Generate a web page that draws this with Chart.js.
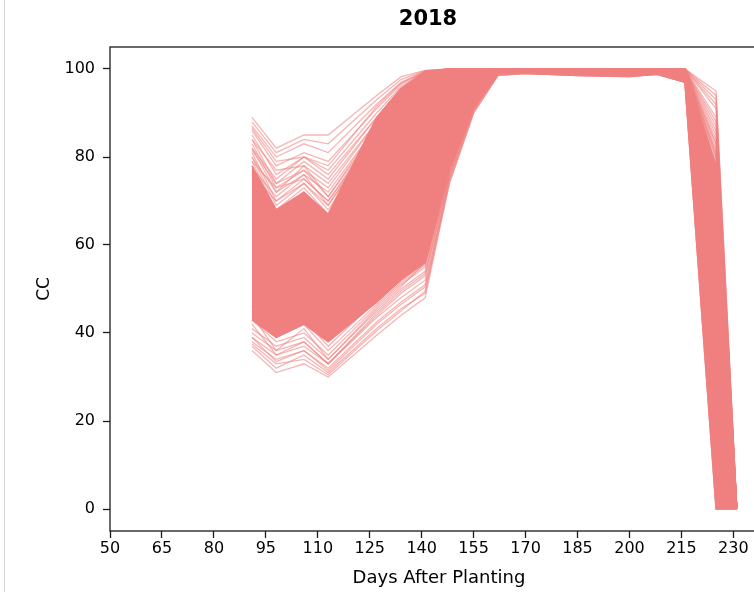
<!DOCTYPE html>
<html>
<head>
<meta charset="utf-8">
<script src="https://cdn.jsdelivr.net/npm/chart.js@4.4.1/dist/chart.umd.min.js"></script>
<style>
  html, body { margin: 0; padding: 0; background: #fff; overflow: hidden; }
  #wrap { position: relative; width: 754px; height: 592px; overflow: hidden; }
  #borde { position: absolute; left: 4px; top: 0; width: 1px; height: 592px; background: #d6d6d6; }
  canvas { position: absolute; left: 0; top: 0; }
</style>
</head>
<body>
<div id="wrap">
  <canvas id="graficoCC" width="768" height="592"></canvas>
  <div id="borde"></div>
</div>
<script>
// =============================
// DATOS
// =============================
const titulo = "2018";
const tituloX = "Days After Planting";
const tituloY = "CC";

const ticksX = [50, 65, 80, 95, 110, 125, 140, 155, 170, 185, 200, 215, 230];
const ticksY = [0, 20, 40, 60, 80, 100];

// días con observación (todas las corridas comparten las fechas)
const dias = [91, 98, 106, 113, 127, 134, 141, 148, 155, 162, 170, 185, 200, 208, 216, 225, 231];

// zona donde se apilan casi todas las corridas
const nucleoSup = [78, 68, 72, 67, 89, 95.5, 99.5, 100, 100, 100, 100, 100, 100, 100, 100, 78, 0];
const nucleoInf = [43, 39, 42, 38, 47, 52, 56, 77, 91, 99, 99, 98.6, 98.4, 98.8, 97, 0, 0];

// corridas que quedan por encima del núcleo
const lineasAltas = [
  [89, 82, 85, 85, 94, 98.2, 99.7, 100, 100, 100, 100, 100, 100, 100, 100, 95, 0],
  [88, 81, 84, 83, 93, 97.6, 99.6, 100, 100, 100, 100, 100, 100, 100, 100, 94, 0],
  [87, 80, 83, 81, 92, 97, 99.5, 100, 100, 100, 100, 100, 100, 100, 100, 93, 0],
  [86.5, 79, 80, 78, 91.5, 96.8, 99.4, 100, 100, 100, 100, 100, 100, 100, 100, 92, 0],
  [86, 78, 81, 79, 91, 96.5, 99.4, 100, 100, 100, 100, 100, 100, 100, 100, 91, 0],
  [85, 76, 80, 77, 90, 96, 99.3, 100, 100, 100, 100, 100, 100, 100, 100, 89, 0],
  [84, 77, 78, 74, 88, 95, 99.2, 100, 100, 100, 100, 100, 100, 100, 100, 88, 0],
  [84, 74, 79, 75, 89, 95.5, 99.2, 100, 100, 100, 100, 100, 100, 100, 100, 87, 0],
  [83, 73, 77, 73, 88, 95, 99, 100, 100, 100, 100, 100, 100, 100, 100, 86, 0],
  [82, 75, 80, 76, 89, 95.6, 99.2, 100, 100, 100, 100, 100, 100, 100, 100, 85, 0],
  [82, 72, 76, 72, 87, 94.5, 98.9, 100, 100, 100, 100, 100, 100, 100, 100, 84, 0],
  [81, 70, 75, 70, 86, 94, 98.7, 100, 100, 100, 100, 100, 100, 100, 100, 83, 0],
  [80, 72, 78, 71, 86, 93.8, 98.8, 100, 100, 100, 100, 100, 100, 100, 100, 82, 0],
  [80, 69, 74, 69, 85, 93, 98.5, 100, 100, 100, 100, 100, 100, 100, 100, 81, 0],
  [79, 73, 75, 70, 85, 93, 98.6, 100, 100, 100, 100, 100, 100, 100, 100, 81, 0],
  [79, 68, 73, 67, 84, 92.5, 98.3, 100, 100, 100, 100, 100, 100, 100, 100, 80, 0],
  [78, 67, 72, 66, 83, 92, 98.2, 100, 100, 100, 100, 100, 100, 100, 100, 79, 0],
  [77, 66, 70, 65, 82, 91, 98, 100, 100, 100, 100, 100, 100, 100, 100, 78, 0],
  [76, 70, 74, 68, 84, 92, 98.4, 100, 100, 100, 100, 100, 100, 100, 100, 78, 0],
  [75, 68, 72, 67, 83, 91.5, 98.2, 100, 100, 100, 100, 100, 100, 100, 100, 77, 0],
  [77.5, 71, 76, 69, 86, 93.5, 98.7, 100, 100, 100, 100, 100, 100, 100, 100, 80, 0],
  [81.5, 74, 77, 71, 87, 94.2, 98.9, 100, 100, 100, 100, 100, 100, 100, 100, 83, 0]
];

// corridas que quedan por debajo del núcleo
const lineasBajas = [
  [36, 31, 33, 30, 39.5, 44, 48, 74, 90, 98.5, 99, 98.5, 98.2, 98.8, 97, 0, 0],
  [37, 32, 35, 31, 41, 45.5, 49, 75, 90.5, 98.6, 99, 98.5, 98.3, 98.8, 97, 5, 0],
  [37.5, 33, 34, 30.5, 40.5, 45, 49.5, 74, 90, 98.5, 99, 98.5, 98.3, 98.8, 97, 0, 0],
  [38, 34, 36, 32, 42.5, 47, 51, 75, 91, 98.8, 99.1, 98.6, 98.4, 98.9, 97.5, 15, 0],
  [39, 33.5, 36, 31.5, 42, 46.5, 50.5, 75, 90.5, 98.7, 99, 98.6, 98.4, 98.9, 97.5, 10, 0],
  [39, 35, 37, 33, 43.5, 48, 52, 76, 91, 99, 99.2, 98.7, 98.5, 99, 98, 25, 0],
  [40, 36, 38, 33, 44, 49, 53, 76, 91.5, 99, 99.3, 98.8, 98.6, 99, 98, 35, 0],
  [41, 37, 39, 34, 45, 50, 54, 77, 92, 99.2, 99.4, 98.9, 98.7, 99.1, 98.5, 45, 0],
  [42, 35, 38, 33, 44.5, 49.5, 53.5, 76, 91.5, 99.1, 99.3, 98.8, 98.6, 99, 98, 30, 0],
  [43, 38, 40, 35, 46, 51, 55, 77, 92, 99.3, 99.5, 99, 98.8, 99.2, 99, 55, 0],
  [44, 36, 41, 34, 45.5, 50.5, 56, 78, 92.5, 99.4, 99.5, 99, 98.9, 99.3, 99, 65, 0],
  [45, 39, 42, 36, 46.5, 51.5, 55.5, 77, 92, 99.3, 99.5, 99, 98.8, 99.2, 99, 50, 0],
  [46, 40, 43, 37, 47.5, 52, 56, 78, 92.5, 99.4, 99.5, 99, 98.9, 99.3, 99, 60, 0]
];

// =============================
// ESTILO
// =============================
const coral = "rgb(240, 128, 128)";
const coralSuave = "rgba(240, 128, 128, 0.58)";
const negro = "#1a1a1a";
const fuente = "'DejaVu Sans', sans-serif";

const aPuntos = valores => valores.map((v, i) => ({ x: dias[i], y: v }));

const serieLinea = valores => ({
  data: aPuntos(valores),
  borderColor: coralSuave,
  borderWidth: 1.3,
  pointRadius: 0,
  tension: 0,
  fill: false
});

const datasets = [
  {
    data: aPuntos(nucleoSup),
    borderColor: coral,
    backgroundColor: coral,
    borderWidth: 1.5,
    pointRadius: 0,
    tension: 0,
    fill: "+1"
  },
  {
    data: aPuntos(nucleoInf),
    borderColor: coral,
    borderWidth: 1.5,
    pointRadius: 0,
    tension: 0,
    fill: false
  },
  ...lineasAltas.map(serieLinea),
  ...lineasBajas.map(serieLinea)
];

// marco completo del área y título del año
const marco = {
  id: "marco",
  afterDraw(chart) {
    const { ctx, chartArea: a } = chart;
    ctx.save();
    ctx.strokeStyle = negro;
    ctx.lineWidth = 1.3;
    ctx.strokeRect(a.left, a.top, a.right - a.left, a.bottom - a.top);

    ctx.fillStyle = "#000";
    ctx.font = "bold 21px " + fuente;
    ctx.textAlign = "center";
    ctx.textBaseline = "middle";
    ctx.fillText(titulo, 428, 20);
    ctx.restore();
  }
};

// =============================
// GRÁFICO
// =============================
new Chart(document.getElementById("graficoCC"), {
  type: "line",
  data: { datasets },
  plugins: [marco],
  options: {
    responsive: false,
    animation: false,
    layout: { padding: { top: 47, left: 0, right: 0, bottom: 0 } },
    plugins: {
      legend: { display: false },
      tooltip: { enabled: false },
      title: { display: false }
    },
    scales: {
      x: {
        type: "linear",
        min: 50,
        max: 240,
        afterBuildTicks: eje => { eje.ticks = ticksX.map(v => ({ value: v })); },
        afterFit: eje => { eje.height = 61; },
        border: { display: false },
        grid: {
          drawOnChartArea: false,
          drawTicks: true,
          tickLength: 7,
          tickWidth: 1.3,
          tickColor: negro
        },
        ticks: {
          autoSkip: false,
          maxRotation: 0,
          padding: 1,
          color: "#000",
          font: { family: fuente, size: 16 }
        },
        title: {
          display: true,
          text: tituloX,
          color: "#000",
          font: { family: fuente, size: 18 },
          padding: { top: 0, bottom: 3 }
        }
      },
      y: {
        min: -5,
        max: 105,
        afterBuildTicks: eje => { eje.ticks = ticksY.map(v => ({ value: v })); },
        afterFit: eje => { eje.width = 110; },
        border: { display: false },
        grid: {
          drawOnChartArea: false,
          drawTicks: true,
          tickLength: 7,
          tickWidth: 1.3,
          tickColor: negro
        },
        ticks: {
          padding: 8,
          color: "#000",
          font: { family: fuente, size: 16 }
        },
        title: {
          display: true,
          text: tituloY,
          color: "#000",
          font: { family: fuente, size: 17 },
          padding: { top: 34, bottom: 0 }
        }
      }
    }
  }
});
</script>
</body>
</html>
